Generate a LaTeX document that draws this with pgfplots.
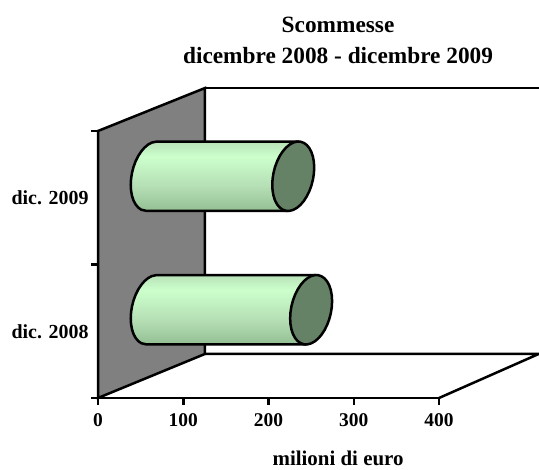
\documentclass[border=0pt]{standalone}
\usepackage{pgfplots}
\usepackage{pgfplotstable}
\pgfplotsset{compat=1.18}
\usepackage{fontspec}
\setmainfont{Liberation Serif}
\definecolor{wallc}{HTML}{808080}
\definecolor{capc}{HTML}{668266}
\definecolor{cA}{HTML}{93BF93}
\definecolor{cB}{HTML}{B4DDB4}
\definecolor{cC}{HTML}{CCFFCC}
\definecolor{cD}{HTML}{B8E2B8}
\pgfdeclareverticalshading{cyl}{100bp}{
 color(0bp)=(cA);
 color(25bp)=(cA);
 color(42bp)=(cB);
 color(64bp)=(cC);
 color(75bp)=(cD);
 color(100bp)=(cD)}
% outline of the side of a cylinder: e=0 on the base, e=1 at the end of the bar
\pgfplotstableread[row sep=\\]{
t e\\ 76 0\\ 90 0\\ 100 0\\ 110 0\\ 120 0\\ 130 0\\ 140 0\\ 150 0\\ 160 0\\ 170 0\\ 180 0\\
190 0\\ 200 0\\ 210 0\\ 220 0\\ 230 0\\ 240 0\\ 256 0\\ 256 1\\ 76 1\\
}\side
\pgfplotstableread[row sep=\\]{
t e\\ 0 1\\ 10 1\\ 20 1\\ 30 1\\ 40 1\\ 50 1\\ 60 1\\ 70 1\\ 80 1\\ 90 1\\ 100 1\\ 110 1\\ 120 1\\
130 1\\ 140 1\\ 150 1\\ 160 1\\ 170 1\\ 180 1\\ 190 1\\ 200 1\\ 210 1\\ 220 1\\ 230 1\\ 240 1\\
250 1\\ 260 1\\ 270 1\\ 280 1\\ 290 1\\ 300 1\\ 310 1\\ 320 1\\ 330 1\\ 340 1\\ 350 1\\
}\cap
\newcommand\cyl[2]{%
 \addplot[draw=black,line width=2.5bp,line join=round,shade,shading=cyl]
  table[x expr={63+24.6*cos(\thisrow{t})+\thisrow{e}*#2},
        y expr={#1+0.252*sin(\thisrow{t})+0.0644*cos(\thisrow{t})}]{\side} -- cycle;
 \addplot[draw=black,line width=2.5bp,line join=round,fill=capc]
  table[x expr={63+24.6*cos(\thisrow{t})+\thisrow{e}*#2},
        y expr={#1+0.252*sin(\thisrow{t})+0.0644*cos(\thisrow{t})}]{\cap} -- cycle;
}
\begin{document}
\begin{tikzpicture}[x=1bp,y=1bp]
\useasboundingbox (0,0) rectangle (539,470);
\begin{axis}[
  at={(98bp,72bp)},anchor=origin,
  scale only axis,width=341bp,height=267bp,
  xmin=0,xmax=400,ymin=0,ymax=2,clip=false,
  axis x line*=bottom,axis y line*=left,
  axis line style={line width=2.5bp,black},
  tick style={line width=2.5bp,black},
  tick align=outside,major tick length=7bp,
  xtick={0,100,200,300,400},xticklabels={0,100,200,300,400},
  ytick={0,1,2},yticklabels={,,},
  extra y ticks={0.5,1.5},
  extra y tick labels={dic. 2008,dic. 2009},
  extra y tick style={major tick length=0pt,tick style={draw=none}},
  tick label style={font=\bfseries\fontsize{19.5}{21}\selectfont},
  x tick label style={yshift=-5bp},
  y tick label style={xshift=-6bp,font=\bfseries\fontsize{20}{21}\selectfont},
  title={Scommesse\\dicembre 2008 - dicembre 2009},
  title style={font=\bfseries\fontsize{23.4}{32}\selectfont,align=center,
    at={(rel axis cs:0.704,1.317)},anchor=center},
  xlabel={milioni di euro},
  xlabel style={font=\bfseries\fontsize{21}{23}\selectfont,inner sep=0pt,
    at={(rel axis cs:0.704,-0.225)},anchor=center},
]
\addplot[draw=black,line width=2.5bp,fill=wallc] coordinates {(0,0)(125.5,0.33)(125.5,2.322)(0,2)} -- cycle;
\addplot[draw=black,line width=2.5bp] coordinates {(125.5,2.322)(517,2.322)};
\addplot[draw=black,line width=2.5bp] coordinates {(125.5,0.33)(517,0.33)(400,0)};
\cyl{0.661}{187}
\cyl{1.661}{166}
\end{axis}
\end{tikzpicture}
\end{document}
